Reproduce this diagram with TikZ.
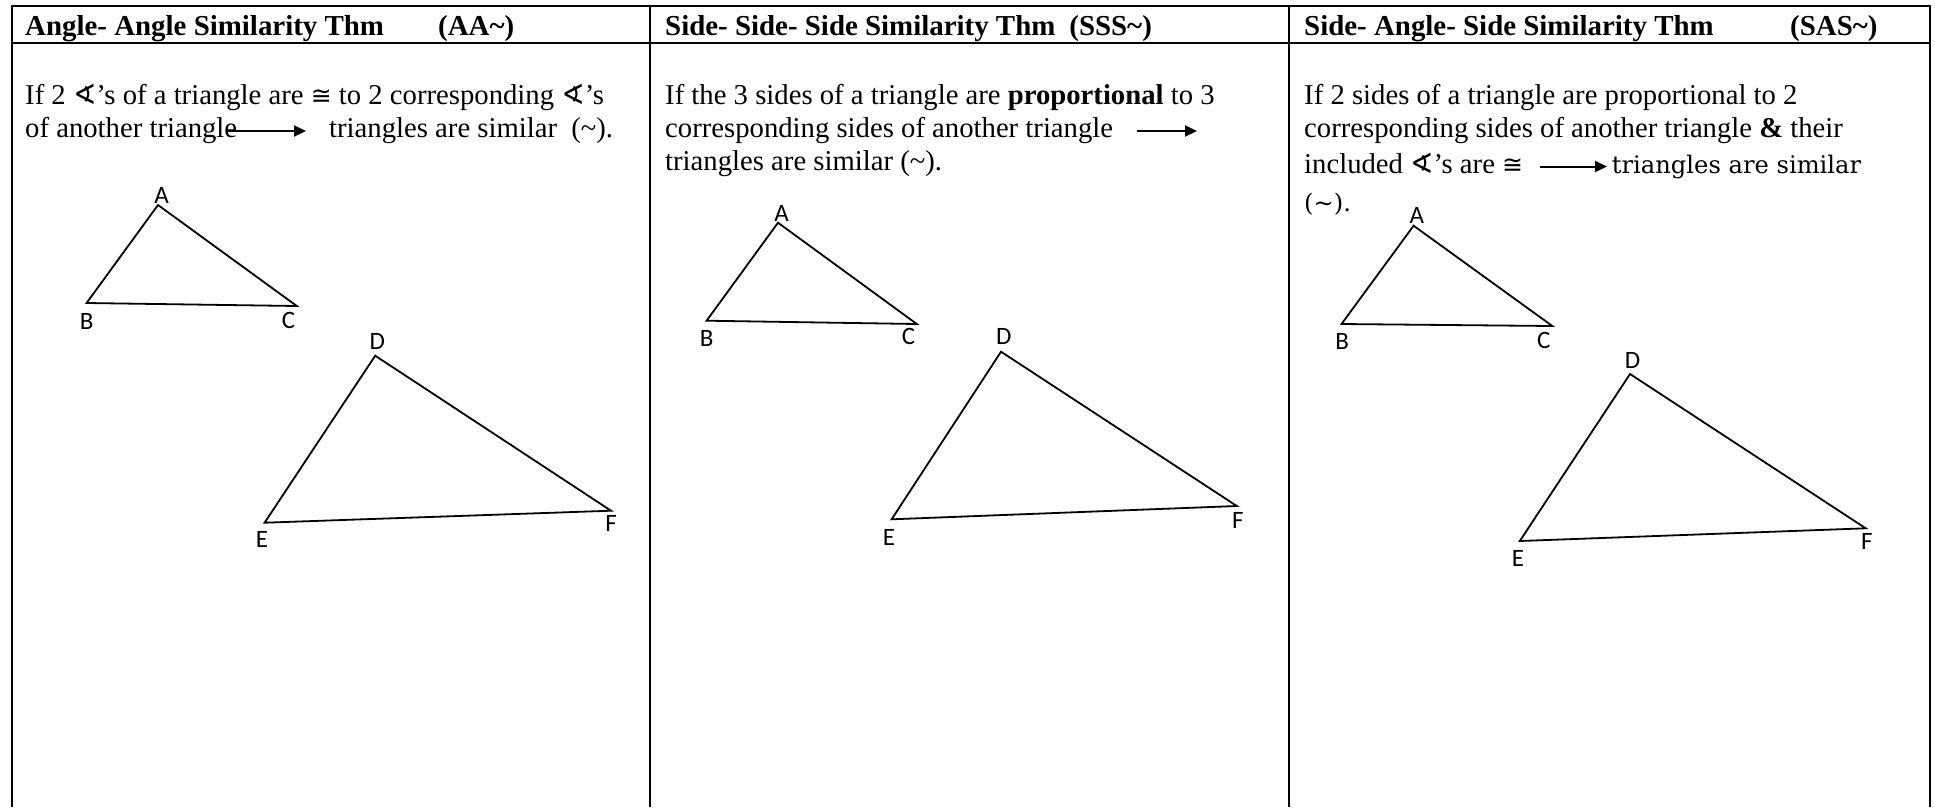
\documentclass[tikz,border=0pt]{standalone}
\usepackage{fontspec}
\setmainfont{Liberation Serif}
\newfontfamily\lblfont{Carlito}
\newfontfamily\symfnt{DejaVu Sans}
\newfontfamily\cambfont{DejaVu Serif}
\usetikzlibrary{arrows.meta,calc}
\newcommand{\angsym}{{\symfnt\fontsize{28}{28}\selectfont ∢}}
\newcommand{\cgsym}{{\symfnt\fontsize{25}{25}\selectfont ≅}}
\begin{document}
\begin{tikzpicture}[x=1pt,y=-1pt,
  frame/.style={line width=1.7pt, line join=miter},
  tri/.style={line width=1.8pt, line join=miter},
  lbl/.style={font=\lblfont\fontsize{25}{25}\selectfont, inner sep=0pt},
  hdr/.style={font=\bfseries\fontsize{28.9}{33}\selectfont, anchor=base west, inner sep=0pt},
  body/.style={font=\fontsize{28.7}{33}\selectfont, anchor=base west, inner sep=0pt},
  camb/.style={font=\cambfont\fontsize{24.2}{33}\selectfont, anchor=base west, inner sep=0pt},
  arr/.style={line width=2pt, -{Triangle[length=12pt,width=11pt]}}]
\useasboundingbox (0,0) rectangle (1935,807);
% frame
\coordinate (TL) at (11.7,6);
\coordinate (TR) at (1930,6);
\coordinate (BL) at (11.7,807);
\coordinate (BR) at (1930,807);
\coordinate (HL) at (11.7,43.3);
\coordinate (HR) at (1930,43.3);
\coordinate (D1t) at (650,6);
\coordinate (D1b) at (650,807);
\coordinate (D2t) at (1289,6);
\coordinate (D2b) at (1289,807);
\draw[frame] (BL) -- (TL) -- (TR) -- (BR);
\draw[frame] (HL) -- (HR);
\draw[frame] (D1t) -- (D1b);
\draw[frame] (D2t) -- (D2b);
% headers
\node[hdr] (h1) at (25,35) {Angle- Angle Similarity Thm};
\node[hdr] (h1b) at (438,35) {(AA\textasciitilde)};
\node[hdr] (h2) at (665,35) {Side- Side- Side Similarity Thm\hspace{14pt}(SSS\textasciitilde)};
\node[hdr] (h3) at (1304,35) {Side- Angle- Side Similarity Thm};
\node[hdr] (h3b) at (1790,35) {(SAS\textasciitilde)};
% column 1 text
\node[body] (t11) at (25,104) {If 2 \angsym’s of a triangle are \cgsym{} to 2 corresponding \angsym’s};
\node[body] (t12) at (25,137) {of another triangle};
\node[body] (t13) at (329,137) {triangles are similar\hspace{7pt} (\textasciitilde).};
\coordinate (a1s) at ($(t12.base east)+(-9,-6)$);
\coordinate (a1e) at (306,131);
\draw[arr] (a1s) -- (a1e);
% column 2 text
\node[body] (t21) at (665,104) {If the 3 sides of a triangle are \textbf{proportional} to 3};
\node[body] (t22) at (665,137) {corresponding sides of another triangle};
\node[body] (t23) at (665,170) {triangles are similar (\textasciitilde).};
\coordinate (a2s) at (1137,131);
\coordinate (a2e) at (1197,131);
\draw[arr] (a2s) -- (a2e);
% column 3 text
\node[body] (t31) at (1304,104) {If 2 sides of a triangle are proportional to 2};
\node[body] (t32) at (1304,137) {corresponding sides of another triangle \textbf{\&} their};
\node[body] (t33) at (1304,173) {included \angsym’s are \cgsym};
\node[camb] (t34) at (1611.7,173) {triangles are similar};
\node[camb] (t35) at (1304,211) {(\textasciitilde).};
\coordinate (a3s) at (1540,166.5);
\coordinate (a3e) at (1607,166.5);
\draw[arr] (a3s) -- (a3e);
% triangles column 1
\coordinate (A1) at (158,205);
\coordinate (B1) at (86.6,303);
\coordinate (C1) at (296.8,306);
\coordinate (D1) at (375.2,355.7);
\coordinate (E1) at (264.6,522.7);
\coordinate (F1) at (611,510.7);
\draw[tri] (A1) -- (B1) -- (C1) -- cycle;
\draw[tri] (D1) -- (E1) -- (F1) -- cycle;
\node[lbl] (lA1) at (161.7,195) {A};
\node[lbl] (lB1) at (86.6,321.7) {B};
\node[lbl] (lC1) at (288.6,320.7) {C};
\node[lbl] (lD1) at (377.4,341.7) {D};
\node[lbl] (lE1) at (262,539) {E};
\node[lbl] (lF1) at (611,523.3) {F};
% triangles column 2
\coordinate (A2) at (778,222.7);
\coordinate (B2) at (706.6,320.7);
\coordinate (C2) at (916.8,324);
\coordinate (D2) at (1001,351.7);
\coordinate (E2) at (891.6,519.3);
\coordinate (F2) at (1236.8,506);
\draw[tri] (A2) -- (B2) -- (C2) -- cycle;
\draw[tri] (D2) -- (E2) -- (F2) -- cycle;
\node[lbl] (lA2) at (781.7,213.3) {A};
\node[lbl] (lB2) at (706.6,338.3) {B};
\node[lbl] (lC2) at (908.6,336.7) {C};
\node[lbl] (lD2) at (1003.7,336.7) {D};
\node[lbl] (lE2) at (889,537) {E};
\node[lbl] (lF2) at (1237.9,520.7) {F};
% triangles column 3
\coordinate (A3) at (1413.6,225.7);
\coordinate (B3) at (1341.5,324);
\coordinate (C3) at (1552.3,326);
\coordinate (D3) at (1630,374);
\coordinate (E3) at (1519.8,541);
\coordinate (F3) at (1865.7,528.3);
\draw[tri] (A3) -- (B3) -- (C3) -- cycle;
\draw[tri] (D3) -- (E3) -- (F3) -- cycle;
\node[lbl] (lA3) at (1416.9,215) {A};
\node[lbl] (lB3) at (1342.2,341.7) {B};
\node[lbl] (lC3) at (1543.8,340.7) {C};
\node[lbl] (lD3) at (1632.6,360) {D};
\node[lbl] (lE3) at (1517.9,558.3) {E};
\node[lbl] (lF3) at (1866.8,541.7) {F};
\end{tikzpicture}
\end{document}
